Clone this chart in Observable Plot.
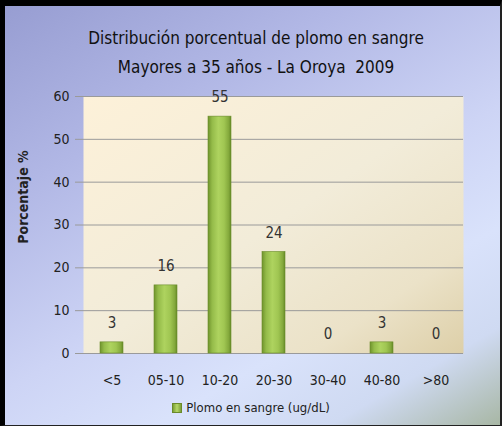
<!DOCTYPE html>
<html>
<head>
<meta charset="utf-8">
<script src="https://cdn.jsdelivr.net/npm/d3@7"></script>
<script src="https://cdn.jsdelivr.net/npm/@observablehq/plot@0.6"></script>
<style>
  html, body { margin: 0; padding: 0; }
  body { width: 502px; height: 426px; overflow: hidden; }
  #wrap {
    position: relative; width: 502px; height: 426px; overflow: hidden;
    background: linear-gradient(150deg, #969cd1 0%, #b1b7e5 28%, #cdd4f5 55%, #d9e2fb 72%, #cfdaf2 86%, #a7b6a3 100%);
    font-family: "DejaVu Sans Condensed", "Liberation Sans Narrow", sans-serif;
    color: #111;
  }
  #frame {
    position: absolute; left: 0; top: 0; width: 502px; height: 426px; box-sizing: border-box;
    border-top: 6px solid #000; border-left: 5px solid #000; border-right: 2px solid #222; border-bottom: 1px solid #222;
    pointer-events: none;
  }
  #plot { position: absolute; left: 0; top: 0; }
  .title { position: absolute; left: 5px; width: 502px; text-align: center; font-size: 17px; white-space: nowrap; }
  #ylab { position: absolute; left: 23px; top: 197px; transform: translate(-50%, -50%) rotate(-90deg); font-weight: bold; font-size: 14px; white-space: nowrap; color: #222; }
  #legend { position: absolute; left: 0; top: 400px; width: 502px; text-align: center; font-size: 13px; color: #222; white-space: nowrap; }
  #legend .sw { display: inline-block; width: 8px; height: 8px; background: linear-gradient(90deg, #7c9f36, #b5d867, #7c9f36); border: 1px solid #6a8a2a; margin-right: 4px; vertical-align: -1px; }
</style>
</head>
<body>
<div id="wrap">
  <div class="title" style="top:28px">Distribución porcentual de plomo en sangre</div>
  <div class="title" style="top:57px">Mayores a 35 años - La Oroya&nbsp; 2009</div>
  <div id="plot"></div>
  <div id="ylab">Porcentaje %</div>
  <div id="legend"><span class="sw"></span>Plomo en sangre (ug/dL)</div>
  <div id="frame"></div>
</div>
<script>
const categories = ["<5", "05-10", "10-20", "20-30", "30-40", "40-80", ">80"];
const values = [2.6, 15.9, 55.3, 23.7, 0, 2.6, 0];
const yTicks = [0, 10, 20, 30, 40, 50, 60];

const data = categories.map((c, i) => ({cat: c, value: values[i]}));
const fmt = d3.format(".0f");

const defs = () => {
  const ns = "http://www.w3.org/2000/svg";
  const g = document.createElementNS(ns, "defs");
  g.innerHTML = `
    <linearGradient id="cream" x1="0" y1="0" x2="1" y2="1">
      <stop offset="0" stop-color="#fdf1d9"/>
      <stop offset="0.5" stop-color="#f2ecd9"/>
      <stop offset="0.8" stop-color="#ebe2c8"/>
      <stop offset="1" stop-color="#ddcfa8"/>
    </linearGradient>
    <linearGradient id="bar" x1="0" y1="0" x2="1" y2="0">
      <stop offset="0" stop-color="#6f932c"/>
      <stop offset="0.18" stop-color="#94bb49"/>
      <stop offset="0.45" stop-color="#aed35f"/>
      <stop offset="0.7" stop-color="#a0c652"/>
      <stop offset="0.9" stop-color="#84a93c"/>
      <stop offset="1" stop-color="#668a27"/>
    </linearGradient>`;
  return g;
};

const chart = Plot.plot({
  width: 502,
  height: 426,
  marginTop: 96,
  marginBottom: 73,
  marginLeft: 83,
  marginRight: 39,
  style: {background: "transparent", fontFamily: "'DejaVu Sans Condensed', 'Liberation Sans Narrow', sans-serif", color: "#222"},
  x: {domain: categories, paddingInner: 0.58, paddingOuter: 0.29, label: null},
  y: {domain: [0, 60], label: null},
  marks: [
    defs,
    Plot.frame({fill: "url(#cream)", stroke: "none"}),
    Plot.gridY(yTicks, {stroke: "#9a9a9a", strokeOpacity: 1, strokeWidth: 1}),
    Plot.axisY(yTicks, {tickSize: 8, tickPadding: 6, fontSize: 14, stroke: "#9a9a9a", fill: "#222", label: null}),
    Plot.axisX({tickSize: 0, tickPadding: 22, fontSize: 14, fill: "#222", label: null}),
    Plot.barY(data, {x: "cat", y: "value", fill: "url(#bar)", stroke: "#6a8c2a", strokeWidth: 0.6}),
    Plot.text(data, {x: "cat", y: "value", text: d => fmt(d.value), dy: -19, fontSize: 15, fill: "#333"})
  ]
});
document.getElementById("plot").appendChild(chart);
</script>
</body>
</html>
